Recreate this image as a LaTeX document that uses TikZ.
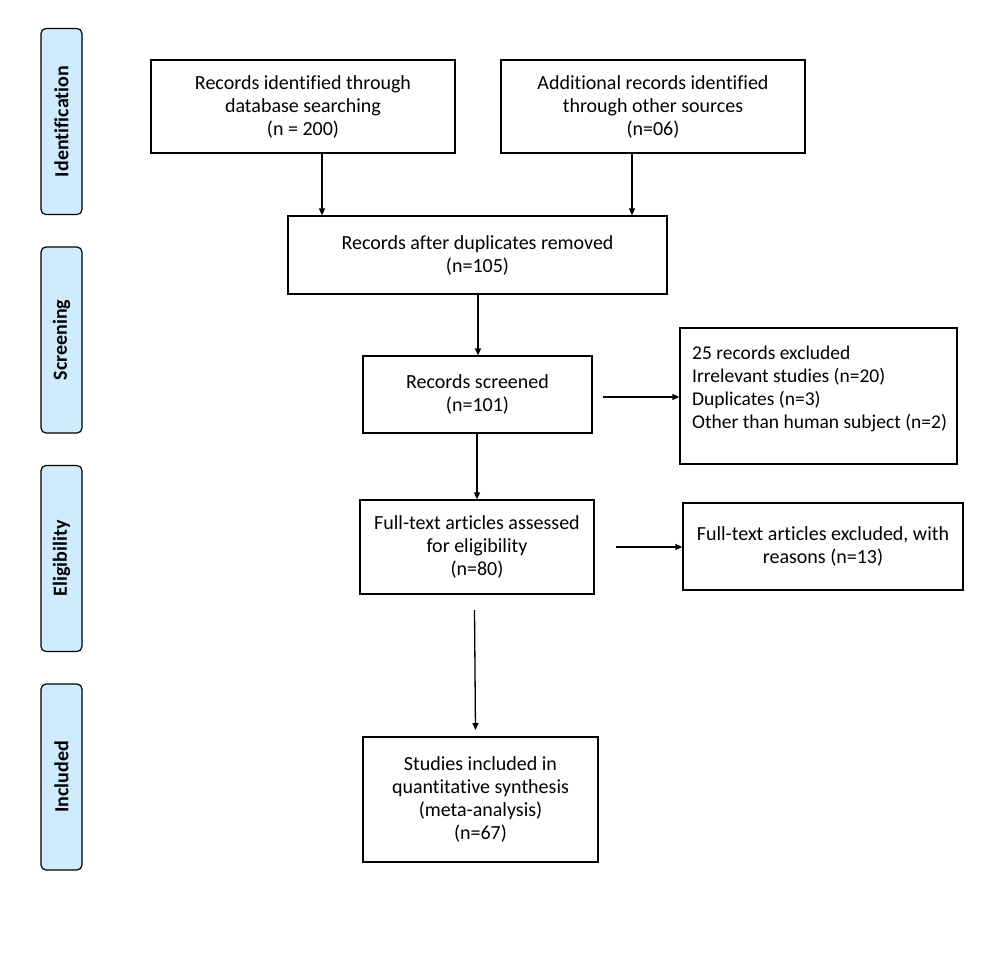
\documentclass[tikz,border=0pt]{standalone}
\usepackage{fontspec}
\setmainfont{Carlito}[Ligatures={NoCommon}]
\usetikzlibrary{arrows.meta}
\definecolor{sidefill}{RGB}{207,236,255}
\tikzset{
  box/.style={draw=black, line width=1.2pt, inner sep=0pt, align=center,
    font=\fontsize{20}{23}\selectfont},
  side/.style={draw=black, line width=1.2pt, fill=sidefill, rounded corners=5pt,
    minimum width=41pt, minimum height=186pt, inner sep=0pt},
  sidetext/.style={rotate=90, font=\bfseries\fontsize{20}{24}\selectfont},
  arr/.style={line width=1.3pt, -{Triangle[length=7pt,width=6pt]}}
}
\begin{document}
\begin{tikzpicture}[x=1pt,y=-1pt]
\useasboundingbox (0,0) rectangle (986,978);
% side labels
\node[side] (s1) at (61.5,121.5) {};
\node[sidetext] (t1) at (s1) {Identification};
\node[side] (s2) at (61.5,340) {};
\node[sidetext] (t2) at (s2) {Screening};
\node[side] (s3) at (61.5,558.5) {};
\node[sidetext] (t3) at (s3) {Eligibility};
\node[side] (s4) at (61.5,777) {};
\node[sidetext] (t4) at (s4) {Included};
% boxes
\node[box, minimum width=304pt, minimum height=93pt] (b1) at (303,106.5)
  {Records identified through\\database searching\\(n = 200)};
\node[box, minimum width=304pt, minimum height=93pt] (b2) at (653,106.5)
  {Additional records identified\\through other sources\\(n=06)};
\node[box, minimum width=379pt, minimum height=78pt] (b3) at (477.5,255)
  {Records after duplicates removed\\(n=105)};
\node[box, minimum width=229pt, minimum height=77pt] (b4) at (477.5,394.5)
  {Records screened\\(n=101)};
\node[box, minimum width=277pt, minimum height=136pt] (b5) at (818.5,396) {};
\node[anchor=west, inner sep=0pt, align=left,
  font=\fontsize{19.5}{23}\selectfont] (b5t) at (692,389)
  {25 records excluded\\Irrelevant studies (n=20)\\Duplicates (n=3)\\Other than human subject (n=2)};
\node[box, minimum width=234pt, minimum height=94pt] (b6) at (477,547)
  {Full-text articles assessed\\for eligibility\\(n=80)};
\node[box, minimum width=280pt, minimum height=87pt] (b7) at (823,546.5)
  {Full-text articles excluded, with\\reasons (n=13)};
\node[box, minimum width=235pt, minimum height=125pt] (b8) at (480.5,799.5)
  {Studies included in\\quantitative synthesis\\(meta-analysis)\\(n=67)};
% connectors
\draw[arr] (b1.south -| 322,0) -- (b3.north -| 322,0);
\draw[arr] (b2.south -| 632,0) -- (b3.north -| 632,0);
\draw[arr] (b3.south -| 478,0) -- (b4.north -| 478,0);
\coordinate (c1) at (603,397);
\draw[arr] (c1) -- (c1 -| b5.west);
\draw[arr] (b4.south -| 477,0) -- (b6.north -| 477,0);
\coordinate (c2) at (616,547);
\draw[arr] (c2) -- (c2 -| b7.west);
\coordinate (c3) at (474.5,610);
\coordinate (c4) at (475.5,730);
\draw[arr] (c3) -- (c4);
\end{tikzpicture}
\end{document}
